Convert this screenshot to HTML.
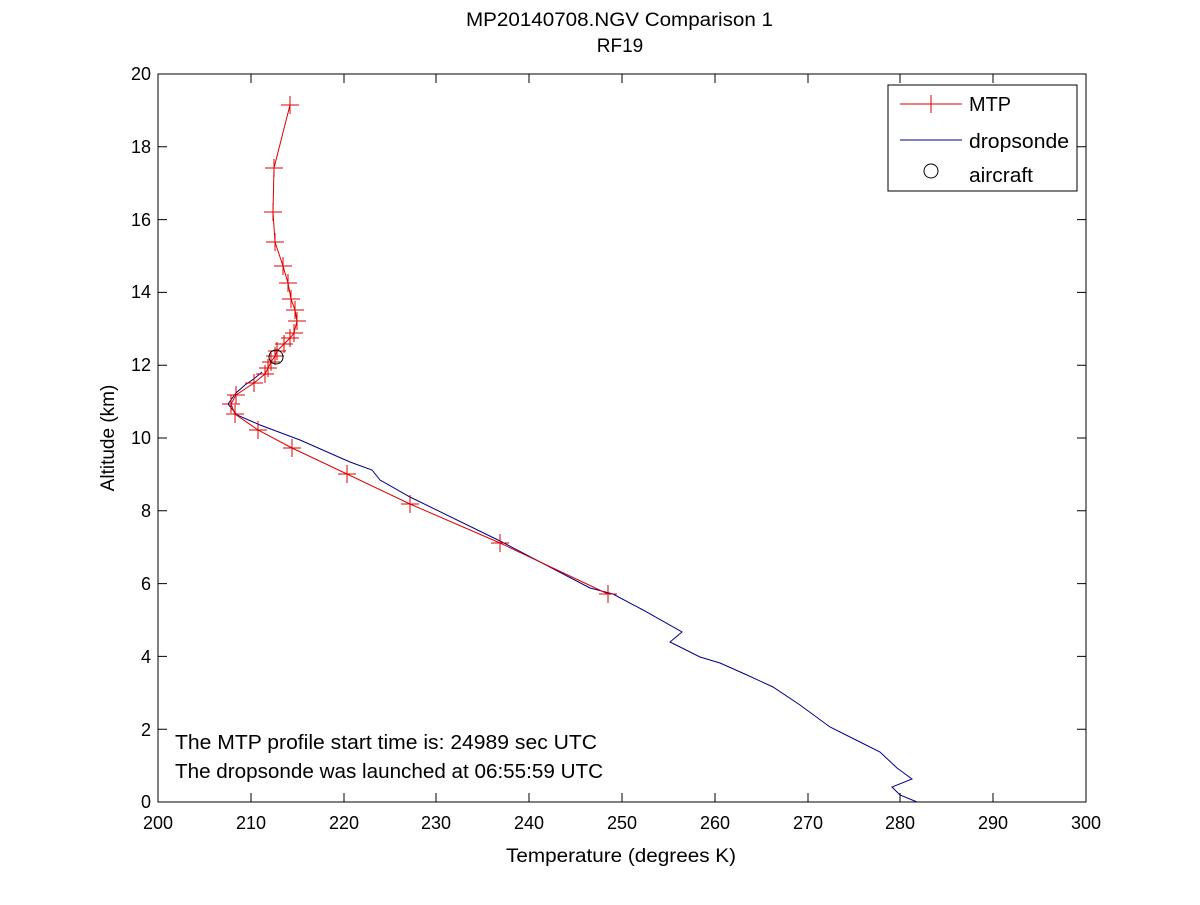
<!DOCTYPE html>
<html><head><style>body{margin:0;background:#fff}svg text{font-family:"Liberation Sans",Arial,sans-serif;fill:#000}</style></head><body>
<svg width="1200" height="900" xmlns="http://www.w3.org/2000/svg">
<defs><path id="m" d="M-9,0h18M0,-9v18"/></defs>
<rect width="1200" height="900" fill="#fff"/>
<text x="466" y="26" font-size="19" textLength="307" lengthAdjust="spacingAndGlyphs">MP20140708.NGV Comparison 1</text>
<text x="620" y="52" font-size="19" text-anchor="middle">RF19</text>
<rect x="158" y="74" width="928" height="728" fill="none" stroke="#000" stroke-width="1"/>
<g stroke="#000" stroke-width="1">
<path d="M251,802v-9M344,802v-9M436,802v-9M529,802v-9M622,802v-9M715,802v-9M808,802v-9M900,802v-9M993,802v-9M251,74v9M344,74v9M436,74v9M529,74v9M622,74v9M715,74v9M808,74v9M900,74v9M993,74v9"/>
<path d="M158,729.2h9M158,656.4h9M158,583.6h9M158,510.8h9M158,438h9M158,365.2h9M158,292.4h9M158,219.6h9M158,146.8h9M1086,729.2h-9M1086,656.4h-9M1086,583.6h-9M1086,510.8h-9M1086,438h-9M1086,365.2h-9M1086,292.4h-9M1086,219.6h-9M1086,146.8h-9"/>
</g>
<g font-size="18" text-anchor="middle">
<text x="158" y="829">200</text><text x="251" y="829">210</text><text x="344" y="829">220</text><text x="436" y="829">230</text><text x="529" y="829">240</text><text x="622" y="829">250</text><text x="715" y="829">260</text><text x="808" y="829">270</text><text x="900" y="829">280</text><text x="993" y="829">290</text><text x="1086" y="829">300</text>
</g>
<g font-size="18" text-anchor="end">
<text x="151" y="808">0</text><text x="151" y="736">2</text><text x="151" y="663">4</text><text x="151" y="590">6</text><text x="151" y="517">8</text><text x="151" y="444">10</text><text x="151" y="371">12</text><text x="151" y="298">14</text><text x="151" y="226">16</text><text x="151" y="153">18</text><text x="151" y="80">20</text>
</g>
<text x="506" y="862" font-size="19" textLength="230" lengthAdjust="spacingAndGlyphs">Temperature (degrees K)</text>
<text transform="translate(114,438) rotate(-90)" font-size="19" text-anchor="middle">Altitude (km)</text>
<polyline fill="none" stroke="#00008b" stroke-width="1" points="262,372 255,378 245,385 236,393 228,404 237,415 260,425 300,440 350,462 372,470 380,480 410,497 500,541 590,588 613,594 643,610 682,632 670,642 700,657 720,663 747,675 773,687 800,705 830,727 860,742 880,752 897,768 912,779 892,787 900,795 917,802"/>
<polyline fill="none" stroke="#d00" stroke-width="1" points="290,105 274,168 273,212 275,242 283,266 288,283 291,299 295,310 297,321 294,333 290,338 284,344 277,351 275,356 271,362 268,368 265,374 254,383 236,395 231,404 235,414 258,430 292,448 347,474 410,504 500,543 608,594"/>
<g stroke="#d00" stroke-width="1" fill="none">
<use href="#m" x="290" y="105"/><use href="#m" x="274" y="168"/><use href="#m" x="273" y="212"/><use href="#m" x="275" y="242"/><use href="#m" x="283" y="266"/><use href="#m" x="288" y="283"/><use href="#m" x="291" y="299"/><use href="#m" x="295" y="310"/><use href="#m" x="297" y="321"/><use href="#m" x="294" y="333"/><use href="#m" x="290" y="338"/><use href="#m" x="284" y="344"/><use href="#m" x="277" y="351"/><use href="#m" x="275" y="356"/><use href="#m" x="271" y="362"/><use href="#m" x="268" y="368"/><use href="#m" x="265" y="374"/><use href="#m" x="254" y="383"/><use href="#m" x="236" y="395"/><use href="#m" x="231" y="404"/><use href="#m" x="235" y="414"/><use href="#m" x="258" y="430"/><use href="#m" x="292" y="448"/><use href="#m" x="347" y="474"/><use href="#m" x="410" y="504"/><use href="#m" x="500" y="543"/><use href="#m" x="608" y="594"/>
</g>
<circle cx="276" cy="357" r="7" fill="none" stroke="#000"/>
<rect x="888" y="85" width="189" height="106" fill="#fff" stroke="#000"/>
<path d="M900,104h62M931,95v18" stroke="#d00"/>
<path d="M900,140h62" stroke="#00008b"/>
<circle cx="931" cy="171" r="7" fill="none" stroke="#000"/>
<g font-size="20"><text x="969" y="111" textLength="42" lengthAdjust="spacingAndGlyphs">MTP</text><text x="969" y="148" textLength="100" lengthAdjust="spacingAndGlyphs">dropsonde</text><text x="969" y="182" textLength="64" lengthAdjust="spacingAndGlyphs">aircraft</text></g>
<g font-size="20"><text x="175" y="749" textLength="422" lengthAdjust="spacingAndGlyphs">The MTP profile start time is: 24989 sec UTC</text><text x="175" y="778" textLength="428" lengthAdjust="spacingAndGlyphs">The dropsonde was launched at 06:55:59 UTC</text></g>
</svg>
</body></html>
